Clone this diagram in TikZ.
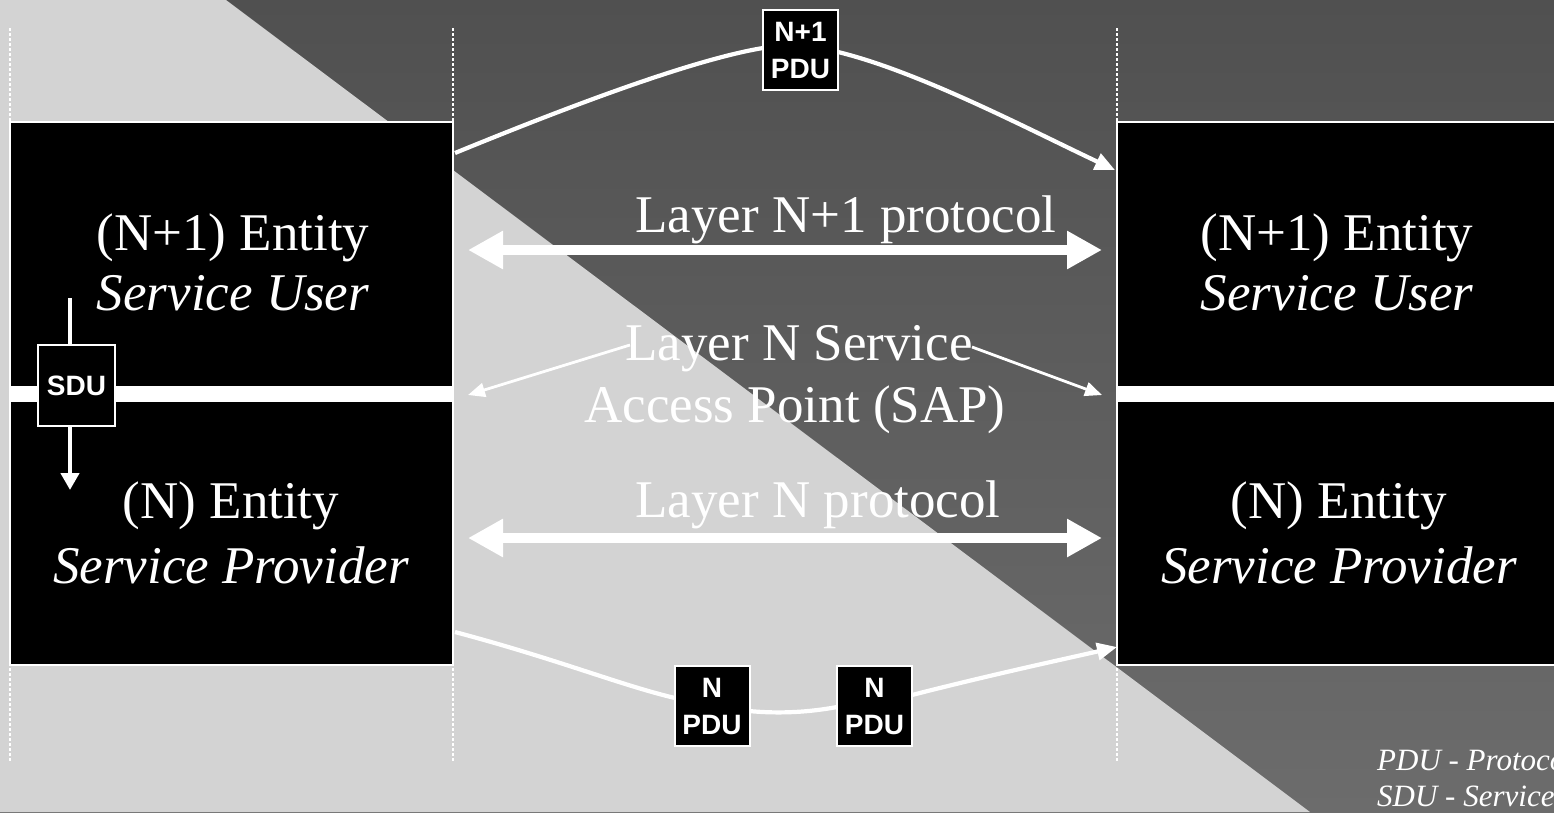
\documentclass[tikz,border=0pt]{standalone}
\usepackage{fontspec}
\setmainfont{Liberation Serif}
\newfontfamily\arialfont{Liberation Sans}
\usetikzlibrary{arrows.meta}
\definecolor{lightbg}{HTML}{D3D3D3}
\definecolor{darktop}{HTML}{505050}
\definecolor{darkbot}{HTML}{6C6C6C}
\begin{document}
\begin{tikzpicture}[x=1pt,y=-1pt,
  entity/.style={rectangle, draw=white, line width=2.5pt, fill=black, inner sep=0pt,
    minimum width=443pt, minimum height=543pt},
  pdu/.style={rectangle, draw=white, line width=2pt, fill=black, text=white, inner sep=0pt,
    minimum width=75pt, minimum height=80pt, align=center,
    font=\arialfont\bfseries\fontsize{28}{37}\selectfont},
  big/.style={text=white, font=\fontsize{53}{62}\selectfont, anchor=base, inner sep=0pt},
  bigit/.style={text=white, font=\fontsize{53}{62}\selectfont\itshape, anchor=base, inner sep=0pt},
  note/.style={text=white, font=\fontsize{31}{36}\selectfont\itshape, anchor=base west, inner sep=0pt},
  dots/.style={white, line width=2pt, dash pattern=on 2.5pt off 2.5pt},
  proto/.style={white, line width=10pt, {Triangle[length=35pt,width=36pt]}-{Triangle[length=35pt,width=36pt]}},
  flow/.style={white, line width=4.2pt, -{Triangle[length=20pt,width=17pt]}},
  sap/.style={white, line width=2.8pt, -{Triangle[length=17pt,width=14pt]}},
  sduarrow/.style={white, line width=4.5pt, -{Triangle[length=17pt,width=18pt]}},
  bar/.style={fill=white}
]
\useasboundingbox (0,0) rectangle (1554,812);
\clip (0,0) rectangle (1554,812);
% background
\shade[top color=darktop, bottom color=darkbot] (0,0) rectangle (1554,812);
\fill[lightbg] (0,0) -- (226,0) -- (1310,812) -- (0,812) -- cycle;
% dotted guide lines
\draw[dots] (10,28) -- (10,762);
\draw[dots] (453,28) -- (453,762);
\draw[dots] (1117,28) -- (1117,762);
% entity boxes
\node[entity] (lbox) at (231.5,393.5) {};
\node[entity] (rbox) at (1338.5,393.5) {};
\fill[bar] (10,386) rectangle (453,402);
\fill[bar] (1117,386) rectangle (1560,402);
% entity labels
\node[big]   (lu1) at (233,250) {(N+1) Entity};
\node[bigit] (lu2) at (233,310) {Service User};
\node[big]   (lp1) at (231,518) {(N) Entity};
\node[bigit] (lp2) at (231,583) {Service Provider};
\node[big]   (ru1) at (1337,250) {(N+1) Entity};
\node[bigit] (ru2) at (1337,310) {Service User};
\node[big]   (rp1) at (1339,518) {(N) Entity};
\node[bigit] (rp2) at (1339,583) {Service Provider};
% protocol labels
\node[big] (l1) at (846,232) {Layer N+1 protocol};
\node[big] (sap1) at (799,360) {Layer N Service};
\node[big] (sap2) at (795,422) {Access Point (SAP)};
\node[big] (l0) at (818,517) {Layer N protocol};
% coordinates
\coordinate (p1L) at (468,250);
\coordinate (p1R) at (1102,250);
\coordinate (p0L) at (468,538);
\coordinate (p0R) at (1102,538);
\coordinate (sapLs) at (630,345);
\coordinate (sapLt) at (468,395);
\coordinate (sapRs) at (972,347);
\coordinate (sapRt) at (1102,395);
\coordinate (upS) at (455,153);
\coordinate (upE) at (1115,170);
\coordinate (loS) at (455,632);
\coordinate (loE) at (1117,647);
\coordinate (sduTop) at (70,298);
\coordinate (sduBot) at (70,490);
% protocol arrows
\draw[proto] (p1L) -- (p1R);
\draw[proto] (p0L) -- (p0R);
\draw[sap] (sapLs) -- (sapLt);
\draw[sap] (sapRs) -- (sapRt);
% PDU flows
\draw[flow] (upS) .. controls (560,110) and (690,60) .. (763,48)
  -- (838,52) .. controls (920,72) and (1030,130) .. (upE);
\draw[flow] (loS) .. controls (560,660) and (620,685) .. (675,698)
  -- (749,711) .. controls (780,714) and (810,712) .. (837,707)
  -- (912,695) .. controls (990,675) and (1060,660) .. (loE);
\node[pdu] (pduT) at (800.5,50) {N+1\\PDU};
\node[pdu] (pduA) at (712,706) {N\\PDU};
\node[pdu] (pduB) at (874.5,706) {N\\PDU};
% SDU
\draw[sduarrow] (sduTop) -- (sduBot);
\node[pdu, minimum width=77pt, minimum height=81pt] (sdu) at (76.5,385.5) {SDU};
% footnote
\node[note] (fn1) at (1377,770) {PDU - Protocol Data Unit};
\node[note] (fn2) at (1377,806) {SDU - Service Data Unit};
\end{tikzpicture}
\end{document}
